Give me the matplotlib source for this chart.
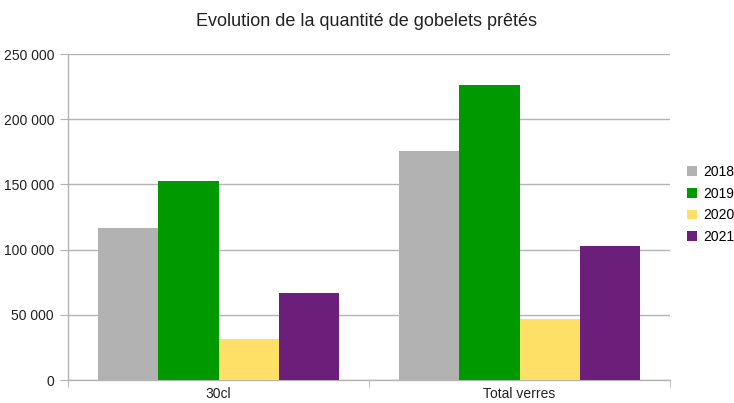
import matplotlib
matplotlib.use("Agg")
import matplotlib.pyplot as plt
import numpy as np

categories = ["30cl", "Total verres"]
series_names = ["2018", "2019", "2020", "2021"]
values_2018 = [116300, 175300]
values_2019 = [152300, 226500]
values_2020 = [31400, 46700]
values_2021 = [66600, 102500]
yticks = [0, 50000, 100000, 150000, 200000, 250000]
ytick_labels = ["0", "50 000", "100 000", "150 000", "200 000", "250 000"]
colors = ["#b2b2b2", "#009900", "#ffe066", "#6b1f7b"]

plt.rcParams['font.family'] = ['Liberation Sans', 'DejaVu Sans']

fig = plt.figure(figsize=(7.34, 4.03), dpi=100)
ax = fig.add_axes([68/734, 23/403, 602/734, 326/403])

data = [values_2018, values_2019, values_2020, values_2021]
x = np.arange(len(categories))
group_w = 0.8
bw = group_w / len(series_names)
for i, (name, vals) in enumerate(zip(series_names, data)):
    ax.bar(x - group_w/2 + bw*(i+0.5), vals, width=bw, color=colors[i], label=name, zorder=3)

ax.set_xlim(-0.5, len(categories) - 0.5)
ax.set_ylim(0, 250000)
ax.set_yticks(yticks)
ax.set_yticklabels(ytick_labels, fontsize=10, color="#222222")
ax.set_xticks(x)
ax.set_xticklabels(categories, fontsize=10, color="#222222")
ax.tick_params(axis='x', length=0, pad=5)
ax.tick_params(axis='y', length=6, color="#b3b3b3", pad=4)
ax.set_xticks([-0.5, 0.5, 1.5], minor=True)
ax.tick_params(axis='x', which='minor', length=5, color="#b3b3b3")

ax.yaxis.grid(True, color="#b3b3b3", linewidth=1, zorder=0)
for s in ["top", "right"]:
    ax.spines[s].set_visible(False)
for s in ["left", "bottom"]:
    ax.spines[s].set_color("#b3b3b3")
    ax.spines[s].set_linewidth(1)

fig.text(0.5, 1 - 22/403, "Evolution de la quantité de gobelets prêtés",
         ha="center", va="center", fontsize=13, color="#222222")

leg = fig.legend(loc="upper left", bbox_to_anchor=(687/734, 1 - 165/403), frameon=False,
                 fontsize=10, handlelength=0.7, handleheight=0.7, handletextpad=0.5,
                 labelspacing=0.55, borderaxespad=0, borderpad=0)
fig.savefig("out.png", dpi=100)
